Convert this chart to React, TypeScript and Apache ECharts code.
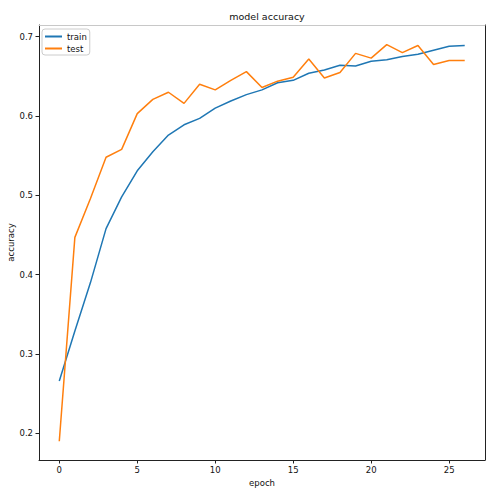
import React, { useEffect, useRef } from "react";
import * as echarts from "echarts";

const epochs = [0,1,2,3,4,5,6,7,8,9,10,11,12,13,14,15,16,17,18,19,20,21,22,23,24,25,26];
const trainAcc = [0.266,0.329,0.390,0.458,0.498,0.531,0.555,0.576,0.589,0.597,0.610,0.619,0.627,0.633,0.642,0.645,0.654,0.658,0.664,0.663,0.669,0.671,0.675,0.678,0.683,0.688,0.689];
const testAcc = [0.190,0.447,0.496,0.548,0.558,0.603,0.621,0.630,0.616,0.640,0.633,0.645,0.656,0.636,0.644,0.649,0.672,0.648,0.655,0.679,0.673,0.690,0.680,0.689,0.665,0.670,0.670];
const xTicks = [0,5,10,15,20,25];
const yTicks = [0.2,0.3,0.4,0.5,0.6,0.7];

const FONT = "DejaVu Sans";

export default function App() {
  const ref = useRef<HTMLDivElement>(null);
  useEffect(() => {
    if (!ref.current) return;
    document.body.style.margin = "0";
    document.body.style.overflow = "hidden";
    const chart = echarts.init(ref.current, null, { renderer: "svg" });
    const xMin = -1.3, xMax = 27.3;
    const yMin = 0.1663, yMax = 0.7148;
    chart.setOption({
      animation: false,
      backgroundColor: "#ffffff",
      title: {
        text: "model accuracy",
        left: 262,
        textAlign: "center",
        top: 6,
        textStyle: { fontFamily: FONT, fontSize: 9.5, fontWeight: "normal", color: "#111" },
      },
      legend: {
        data: ["train", "test"],
        orient: "vertical",
        left: 42,
        top: 29,
        icon: "rect",
        itemWidth: 17,
        itemHeight: 2,
        itemGap: 3,
        padding: [3, 3, 2, 3],
        borderColor: "#cccccc",
        borderWidth: 1,
        borderRadius: 3,
        backgroundColor: "#ffffff",
        textStyle: { fontFamily: FONT, fontSize: 8.5, color: "#111", padding: [0, 0, 0, 0] },
      },
      grid: { left: 39, right: 11, top: 25, bottom: 32, containLabel: false, outerBoundsMode: "none" },
      xAxis: [
        {
          type: "value",
          min: xMin,
          max: xMax,
          name: "epoch",
          nameLocation: "middle",
          nameGap: 16,
          nameTextStyle: { fontFamily: FONT, fontSize: 8.5, color: "#111" },
          axisLine: { show: true, onZero: false, lineStyle: { color: "#222", width: 1 } },
          axisTick: { show: true, length: 3.5, lineStyle: { color: "#222" }, customValues: xTicks },
          axisLabel: { fontFamily: FONT, fontSize: 8.5, color: "#111", margin: 5, customValues: xTicks, formatter: (v: number) => String(v) },
          splitLine: { show: false },
        },
        {
          type: "value",
          position: "top",
          min: xMin,
          max: xMax,
          axisLine: { show: true, onZero: false, lineStyle: { color: "#c8c8c8", width: 1 } },
          axisTick: { show: false },
          axisLabel: { show: false },
          splitLine: { show: false },
        },
      ],
      yAxis: [
        {
          type: "value",
          min: yMin,
          max: yMax,
          name: "accuracy",
          nameLocation: "middle",
          nameGap: 24,
          nameMoveOverlap: false,
          nameTextStyle: { fontFamily: FONT, fontSize: 8.5, color: "#111" },
          axisLine: { show: true, onZero: false, lineStyle: { color: "#222", width: 1 } },
          axisTick: { show: true, length: 3.5, lineStyle: { color: "#222" }, customValues: yTicks },
          axisLabel: { fontFamily: FONT, fontSize: 8.5, color: "#111", margin: 6, customValues: yTicks, formatter: (v: number) => v.toFixed(1) },
          splitLine: { show: false },
        },
        {
          type: "value",
          position: "right",
          min: yMin,
          max: yMax,
          axisLine: { show: true, onZero: false, lineStyle: { color: "#222", width: 1 } },
          axisTick: { show: false },
          axisLabel: { show: false },
          splitLine: { show: false },
        },
      ],
      series: [
        {
          name: "train",
          type: "line",
          data: epochs.map((e, i) => [e, trainAcc[i]]),
          showSymbol: false,
          symbol: "none",
          lineStyle: { color: "#1f77b4", width: 1.5 },
          itemStyle: { color: "#1f77b4" },
        },
        {
          name: "test",
          type: "line",
          data: epochs.map((e, i) => [e, testAcc[i]]),
          showSymbol: false,
          symbol: "none",
          lineStyle: { color: "#ff7f0e", width: 1.5 },
          itemStyle: { color: "#ff7f0e" },
        },
      ],
    });
    return () => chart.dispose();
  }, []);
  return <div ref={ref} style={{ width: 496, height: 492 }} />;
}
